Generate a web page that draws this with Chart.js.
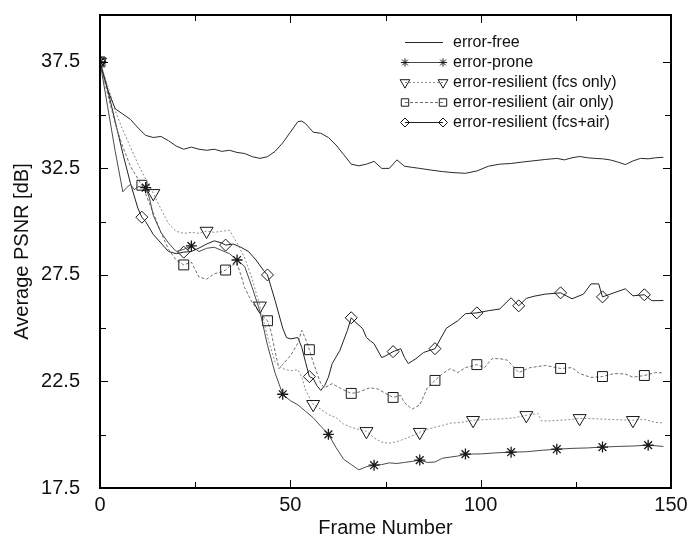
<!doctype html>
<html>
<head>
    <meta charset="UTF-8"/>
    <title>Average PSNR per frame</title>
    <style type="text/css">
        body{ margin:0; background:#fff; }
        canvas{ display:block; }
    </style>
</head>
<body>
    <canvas id="myChart" width="700" height="542"></canvas>

    <script src="https://cdn.jsdelivr.net/npm/chart.js"></script>

    <script>
        // values (frame number -> PSNR in dB)
        const errorFreeFrames = [0,2,4,6,8,10,12,14,16,18,20,22,24,26,28,30,32,34,36,38,40,42,44,46,48,50,52,53,54,56,58,60,62,64,66,68,70,72,74,76,78,80,82,84,87,90,93,96,99,102,105,108,111,114,117,120,122,124,126,128,130,132,134,136,138,140,142,144,146,148];
        const errorFreePsnr = [37.5,36.2,35.3,35.05,34.8,34.4,34.05,33.95,34.0,33.8,33.55,33.4,33.5,33.4,33.35,33.4,33.3,33.35,33.25,33.2,33.05,32.97,33.05,33.3,33.7,34.2,34.7,34.72,34.6,34.2,34.15,33.95,33.6,33.15,32.7,32.62,32.7,32.83,32.5,32.5,32.9,32.6,32.55,32.5,32.42,32.35,32.3,32.27,32.38,32.6,32.7,32.73,32.8,32.86,32.92,32.97,32.9,33.0,33.06,33.0,32.97,32.95,32.9,32.8,32.68,32.85,32.97,32.95,33.0,33.02];

        const proneFrames = [0,2,4,6,7,8,9,10,12,13,14,16,18,20,22,24,26,28,30,32,34,36,38,40,42,44,46,48,50,52,54,56,58,60,62,64,66,68,70,72,74,76,78,80,82,84,86,88,90,92,94,96,100,104,108,112,116,120,124,128,132,136,140,144,148];
        const pronePsnr = [37.5,35.4,33.3,31.4,31.6,31.75,31.5,31.65,31.6,31.1,30.3,29.5,29.0,28.6,28.7,28.86,28.6,28.75,28.8,28.65,28.5,28.2,27.9,26.9,25.8,24.2,22.9,21.9,21.6,21.4,21.1,20.8,20.4,20.02,19.4,18.85,18.6,18.35,18.5,18.57,18.6,18.68,18.65,18.7,18.75,18.81,18.7,18.72,18.9,18.95,19.0,19.09,19.1,19.15,19.18,19.2,19.27,19.32,19.36,19.38,19.42,19.45,19.47,19.51,19.45];

        const fcsFrames = [0,2,4,6,8,10,12,14,16,18,20,22,24,26,28,30,32,34,35,36,38,40,42,44,46,48,50,52,53,54,56,58,60,62,64,66,68,70,72,74,76,78,80,82,84,86,88,90,92,95,98,102,106,109,112,115,116,118,121,124,126,130,134,137,140,143,146,148];
        const fcsPsnr = [37.5,36.4,35.2,34.3,33.5,32.7,32.0,31.33,30.6,29.9,29.55,29.45,29.5,29.45,29.56,29.5,29.55,29.6,29.3,29.0,28.3,27.3,26.05,24.6,23.4,23.1,23.0,23.05,22.7,22.1,21.43,21.2,20.95,20.8,20.5,20.35,20.25,20.16,19.85,19.65,19.6,19.68,19.8,19.95,20.12,20.25,20.35,20.44,20.54,20.58,20.68,20.72,20.75,20.8,20.91,21.0,20.65,20.65,20.68,20.72,20.77,20.75,20.72,20.7,20.68,20.72,20.58,20.55];

        const airFrames = [0,2,4,6,8,10,11,12,14,16,18,20,22,24,26,28,30,32,33,34,36,37,38,40,42,44,45,46,47,48,50,52,53,54,55,56,58,59,61,63,64,66,68,70,71,73,75,77,79,80,82,84,85,86,88,90,92,94,96,99,101,103,105,107,110,113,117,121,124,126,129,132,135,138,140,143,146,148];
        const airPsnr = [37.5,36.0,34.6,33.5,32.6,32.0,31.71,31.3,30.4,29.5,28.7,28.2,27.97,28.1,27.4,27.3,27.55,27.65,27.73,27.9,28.06,27.5,26.9,26.2,25.7,25.35,24.8,23.9,23.1,23.3,23.7,24.3,24.9,24.5,23.99,23.4,22.4,22.2,22.4,22.2,22.1,21.94,22.0,22.15,22.2,22.15,21.94,21.75,21.85,21.5,21.2,21.4,21.8,22.2,22.55,22.87,23.1,22.92,23.15,23.29,23.15,23.57,23.57,23.5,22.92,23.15,23.25,23.11,23.15,22.87,22.69,22.73,22.87,22.85,22.7,22.78,22.92,22.9];

        const bothFrames = [0,2,4,6,8,10,11,12,14,16,18,20,22,24,26,28,30,32,33,35,37,39,41,43,44,45,46,48,49,50,52,53,54,55,56,57,58,59,60,61,63,65,66,67,69,70,71,72,74,75,77,79,80,81,83,85,88,91,94,96,99,102,105,108,110,112,114,117,121,124,127,129,131,132,135,138,140,143,145,148];
        const bothPsnr = [37.5,36.2,34.7,33.2,31.8,30.6,30.21,30.0,29.4,29.0,28.6,28.5,28.57,28.6,28.76,28.95,29.1,29.0,28.9,28.95,28.8,28.6,28.2,27.7,27.5,26.9,26.3,25.0,24.56,24.5,24.56,24.1,23.4,22.73,22.64,22.3,22.08,22.3,22.7,23.34,23.95,24.9,25.49,25.3,24.98,24.56,24.41,24.27,23.62,23.7,23.9,24.04,23.62,23.34,23.57,23.86,24.04,25.0,25.35,25.68,25.72,25.82,25.9,26.43,26.05,26.4,26.5,26.6,26.66,26.38,26.6,27.08,27.08,26.47,26.66,26.85,26.52,26.57,26.29,26.3];

        // frames where gnuplot put a marker on each curve
        const proneMarks = [0,12,24,36,48,60,72,84,96,108,120,132,144];
        const fcsMarks = [0,14,28,42,56,70,84,98,112,126,140];
        const airMarks = [0,11,22,33,44,55,66,77,88,99,110,121,132,143];
        const bothMarks = [0,11,22,33,44,55,66,77,88,99,110,121,132,143];

        const xTicksMajor = [0,50,100,150];
        const xTicksMinor = [25,75,125];
        const yTicksMajor = [17.5,22.5,27.5,32.5,37.5];
        const yTicksMinor = [20,25,30,35];

        const seriesNames = ['error-free','error-prone','error-resilient (fcs only)','error-resilient (air only)','error-resilient (fcs+air)'];

        function toPoints(frames, values) {
            return frames.map((f, i) => ({x: f, y: values[i]}));
        }

        function markRadius(marks, r) {
            return ctx => marks.includes(ctx.raw && ctx.raw.x) ? r : 0;
        }

        const markColor = '#1a1a1a';
        const styles = [
            {color: '#2a2a2a', dash: [], point: null, r: 0, rot: 0, w: 1},
            {color: '#4a4a4a', dash: [], point: 'star', r: 5.5, rot: 0, w: 1.3, marks: proneMarks},
            {color: '#8c8c8c', dash: [2, 2], point: 'triangle', r: 7.5, rot: 180, w: 1, marks: fcsMarks},
            {color: '#6e6e6e', dash: [3, 2], point: 'rect', r: 7, rot: 0, w: 1, marks: airMarks},
            {color: '#222222', dash: [], point: 'rectRot', r: 6, rot: 0, w: 1, marks: bothMarks}
        ];
        const seriesData = [
            toPoints(errorFreeFrames, errorFreePsnr),
            toPoints(proneFrames, pronePsnr),
            toPoints(fcsFrames, fcsPsnr),
            toPoints(airFrames, airPsnr),
            toPoints(bothFrames, bothPsnr)
        ];

        const datasets = seriesNames.map((name, i) => {
            const s = styles[i];
            return {
                label: name,
                data: seriesData[i],
                borderColor: s.color,
                borderWidth: 1,
                borderDash: s.dash,
                backgroundColor: 'transparent',
                fill: false,
                tension: 0,
                pointStyle: s.point || 'circle',
                pointRotation: s.rot,
                pointRadius: s.marks ? markRadius(s.marks, s.r) : 0,
                pointHoverRadius: 0,
                pointBorderColor: markColor,
                pointBackgroundColor: 'transparent',
                pointBorderWidth: s.w
            };
        });

        // small marker painter for the legend
        function drawMark(c, style, x, y, r) {
            c.beginPath();
            if (style === 'star') {
                for (let a = 0; a < 4; a++) {
                    const t = a * Math.PI / 4;
                    c.moveTo(x - r * Math.cos(t), y - r * Math.sin(t));
                    c.lineTo(x + r * Math.cos(t), y + r * Math.sin(t));
                }
            } else if (style === 'triangle') {
                c.moveTo(x, y + r);
                c.lineTo(x - r * 0.866, y - r / 2);
                c.lineTo(x + r * 0.866, y - r / 2);
                c.closePath();
            } else if (style === 'rect') {
                const s = r * Math.SQRT2;
                c.rect(x - s / 2, y - s / 2, s, s);
            } else if (style === 'rectRot') {
                c.moveTo(x - r, y);
                c.lineTo(x, y - r);
                c.lineTo(x + r, y);
                c.lineTo(x, y + r);
                c.closePath();
            }
            c.stroke();
        }

        const framePlugin = {
            id: 'frameTicks',
            afterDraw(chart) {
                const c = chart.ctx;
                const a = chart.chartArea;
                const xs = chart.scales.x, ys = chart.scales.y;
                const L = Math.round(a.left), R = Math.round(a.right);
                const T = Math.round(a.top), B = Math.round(a.bottom);
                c.save();
                c.globalAlpha = 1;
                c.fillStyle = '#000';
                // box round the plot
                c.fillRect(L - 1, T - 1, R - L + 2, 2);
                c.fillRect(L - 1, B - 1, R - L + 2, 2);
                c.fillRect(L - 1, T - 1, 2, B - T + 2);
                c.fillRect(R - 1, T - 1, 2, B - T + 2);
                // inward ticks on all four sides
                const xt = (v, len) => {
                    const px = Math.round(xs.getPixelForValue(v));
                    c.fillRect(px, B - len, 1, len);
                    c.fillRect(px, T, 1, len);
                };
                const yt = (v, len) => {
                    const py = Math.round(ys.getPixelForValue(v));
                    c.fillRect(L, py, len, 1);
                    c.fillRect(R - len, py, len, 1);
                };
                xTicksMajor.forEach(v => xt(v, 8));
                xTicksMinor.forEach(v => xt(v, 6));
                yTicksMajor.forEach(v => yt(v, 8));
                yTicksMinor.forEach(v => yt(v, 6));

                // legend, top right inside the plot
                const lx1 = 405, lx2 = 443, tx = 453;
                const rows = [42, 62, 82, 102, 122];
                c.font = '16px "Liberation Sans", Arial, sans-serif';
                c.textBaseline = 'middle';
                c.textAlign = 'left';
                seriesNames.forEach((name, i) => {
                    const s = styles[i];
                    const y = rows[i];
                    c.strokeStyle = s.color;
                    c.lineWidth = 1;
                    c.setLineDash(s.dash);
                    c.beginPath();
                    c.moveTo(lx1, y + 0.5); c.lineTo(lx2, y + 0.5);
                    c.stroke();
                    c.setLineDash([]);
                    if (s.point) {
                        c.strokeStyle = markColor;
                        drawMark(c, s.point, lx1, y + 0.5, s.r * 0.75);
                        drawMark(c, s.point, lx2, y + 0.5, s.r * 0.75);
                    }
                    c.fillStyle = '#111';
                    c.fillText(name, tx, y + 1);
                });
                c.restore();
            }
        };

        const tickFont = {family: '"Liberation Sans", Arial, sans-serif', size: 20};

        const config = {
            type: 'line',
            data: {datasets: datasets},
            options: {
                responsive: false,
                animation: false,
                devicePixelRatio: 1,
                layout: {padding: {top: 15, right: 29, left: 0, bottom: 0}},
                plugins: {
                    legend: {display: false},
                    tooltip: {enabled: false}
                },
                scales: {
                    x: {
                        type: 'linear',
                        min: 0,
                        max: 150,
                        afterFit: s => { s.height = 54; s.paddingLeft = 0; s.paddingRight = 0; },
                        grid: {display: false},
                        border: {display: false},
                        ticks: {
                            stepSize: 50,
                            font: tickFont,
                            color: '#111',
                            padding: -3,
                            maxRotation: 0
                        },
                        title: {
                            display: true,
                            text: 'Frame Number',
                            font: tickFont,
                            color: '#111',
                            padding: {top: 0, bottom: 2}
                        }
                    },
                    y: {
                        type: 'linear',
                        min: 17.5,
                        max: 39.7,
                        afterFit: s => { s.width = 100; s.paddingTop = 0; s.paddingBottom = 0; },
                        grid: {display: false},
                        border: {display: false},
                        ticks: {
                            stepSize: 2.5,
                            font: tickFont,
                            color: '#111',
                            padding: 12,
                            callback: v => yTicksMajor.some(t => Math.abs(t - v) < 1e-6) ? v.toFixed(1) : ''
                        },
                        title: {
                            display: true,
                            text: 'Average PSNR [dB]',
                            font: tickFont,
                            color: '#111',
                            padding: {top: 10, bottom: 0}
                        }
                    }
                }
            },
            plugins: [framePlugin]
        };

        const myChart = new Chart(document.getElementById('myChart'), config);
    </script>
</body>
</html>
